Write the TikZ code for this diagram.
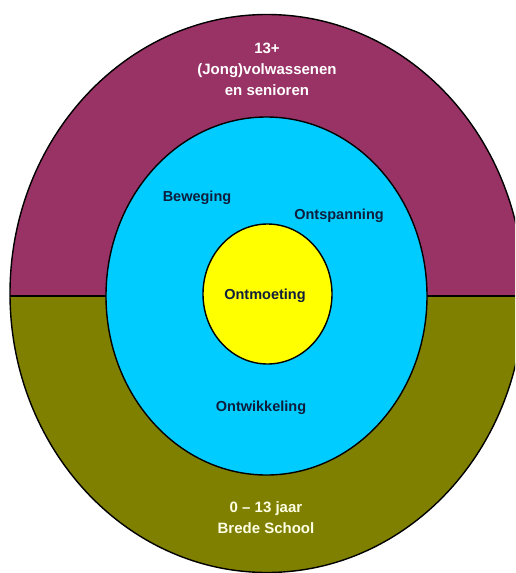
\documentclass[tikz,border=0pt]{standalone}
\usepackage{fontspec}
\setmainfont{Liberation Sans}
\usetikzlibrary{positioning}
\definecolor{plum}{HTML}{993366}
\definecolor{olijf}{HTML}{808000}
\definecolor{hemel}{HTML}{00CCFF}
\definecolor{geel}{HTML}{FFFF00}
\definecolor{inkt}{HTML}{0F1E3C}
\definecolor{room}{HTML}{FFFFE6}
\tikzset{
    ring/.style={draw=black, line width=1.4pt},
    buitentekst/.style={text=white, font=\bfseries\fontsize{15}{21}\selectfont, align=center},
    binnentekst/.style={text=inkt, font=\bfseries\fontsize{14.5}{17}\selectfont}
}
\begin{document}
\begin{tikzpicture}[x=1pt, y=-1pt]
            \useasboundingbox (0, 0) rectangle (515, 573);
            \clip (0, 0) rectangle (515, 573);

            %%outer ring, two halves
            \fill[olijf] (267, 293.5) ellipse [x radius=257pt, y radius=279pt];
            \begin{scope}
                \clip (267, 293.5) ellipse [x radius=257pt, y radius=279pt];
                \fill[plum] (0, 0) rectangle (515, 296);
                \draw[ring] (0, 296) to (515, 296);
            \end{scope}
            \draw[ring] (267, 293.5) ellipse [x radius=257pt, y radius=279pt];

            %%middle ring
            \filldraw[ring, fill=hemel] (266.5, 296) ellipse [x radius=160.5pt, y radius=179pt];

            %%centre
            \filldraw[ring, fill=geel] (267.5, 294) ellipse [x radius=64.5pt, y radius=70pt];

            %%labels
                \node[buitentekst] (oud) at (267, 69.5){13+\\(Jong)volwassenen\\en senioren};
                \node[buitentekst, text=room] (jong) at (266, 518){0 -- 13 jaar\\Brede School};
                \node[binnentekst] (beweging) at (197, 198){Beweging};
                \node[binnentekst] (ontspanning) at (339, 216){Ontspanning};
                \node[binnentekst] (ontmoeting) at (265, 296){Ontmoeting};
                \node[binnentekst] (ontwikkeling) at (261, 408){Ontwikkeling};
        \end{tikzpicture}
\end{document}
